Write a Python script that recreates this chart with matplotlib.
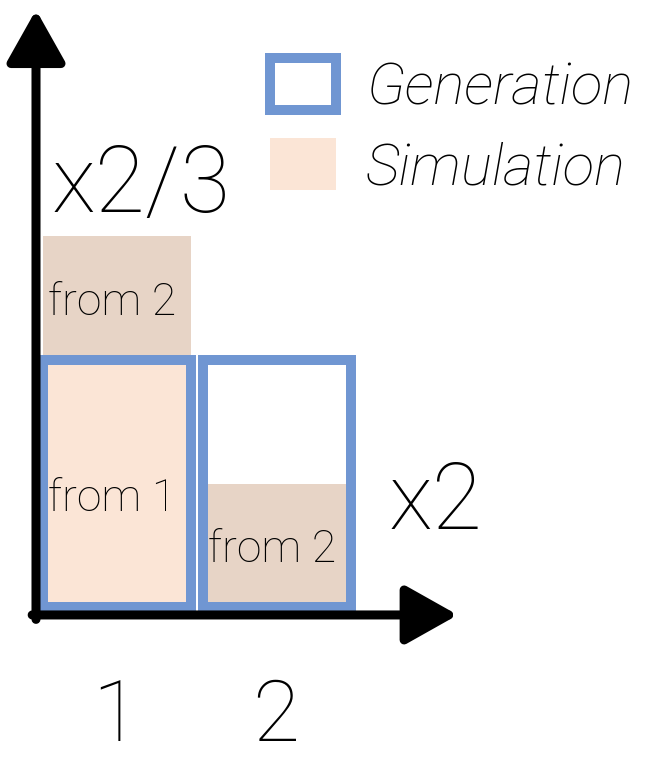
import matplotlib.pyplot as plt
from matplotlib.patches import Patch

categories = ["1", "2"]
xs = [1, 2]
generation = [1.0, 1.0]
sim_from1 = [1.0, 0.0]
sim_from2 = [0.5, 0.5]
factors = ["x2/3", "x2"]

BLUE = "#7096d2"
PEACH = "#fbe5d6"
TAN = "#e7d4c6"
FONT = dict(family=["Roboto", "DejaVu Sans"], fontweight="light")

fig = plt.figure(figsize=(6.65, 7.59), dpi=100)
ax = fig.add_axes([0, 0, 1, 1])
ax.set_xlim(0.269, 4.425)
ax.set_ylim(-0.615, 2.457)
ax.axis("off")

width = 0.93
ax.bar(xs, sim_from1, width=width, color=PEACH, zorder=1)
ax.bar(xs, sim_from2, width=width, bottom=sim_from1, color=TAN, zorder=1)
ax.bar(xs, generation, width=width, fill=False, edgecolor=BLUE,
       linewidth=7.2, zorder=3)

for x, a, b in zip(xs, sim_from1, sim_from2):
    if a > 0:
        ax.text(x - 0.03, a * 0.44, "from 1", ha="center", va="center",
                fontsize=32, zorder=4, **FONT)
    if b > 0:
        ax.text(x - 0.03, a + b / 2 - 0.02, "from 2", ha="center", va="center",
                fontsize=32, zorder=4, **FONT)

# axes arrows
arrow = dict(arrowstyle="-|>,head_length=0.8,head_width=0.45",
             color="black", lw=6.5, mutation_scale=40,
             shrinkA=0, shrinkB=0)
ax.annotate("", xy=(0.494, 2.417), xytext=(0.494, -0.05), arrowprops=arrow)
ax.annotate("", xy=(3.13, -0.032), xytext=(0.47, -0.032), arrowprops=arrow)

# multiplier labels
ax.text(xs[0] - 0.41, sim_from1[0] + sim_from2[0] + 0.2, factors[0],
        ha="left", va="center", fontsize=66, **FONT)
ax.text(xs[1] + 0.7, generation[1] * 0.42, factors[1],
        ha="left", va="center", fontsize=66, **FONT)

for x, c in zip(xs, categories):
    ax.text(x - 0.01, -0.45, c, ha="center", va="center", fontsize=62, **FONT)

handles = [Patch(facecolor="white", edgecolor=BLUE, linewidth=7.2),
           Patch(facecolor=PEACH, edgecolor="none")]
leg = ax.legend(handles, ["Generation", "Simulation"], loc="upper left",
                bbox_to_anchor=(0.362, 0.962), frameon=False, borderpad=0,
                handlelength=1.14, handleheight=1.0, handletextpad=0.5,
                labelspacing=0.38,
                prop=dict(family=["Roboto", "DejaVu Sans"], weight="light",
                          style="italic", size=42))

fig.savefig("out.png", dpi=100)
